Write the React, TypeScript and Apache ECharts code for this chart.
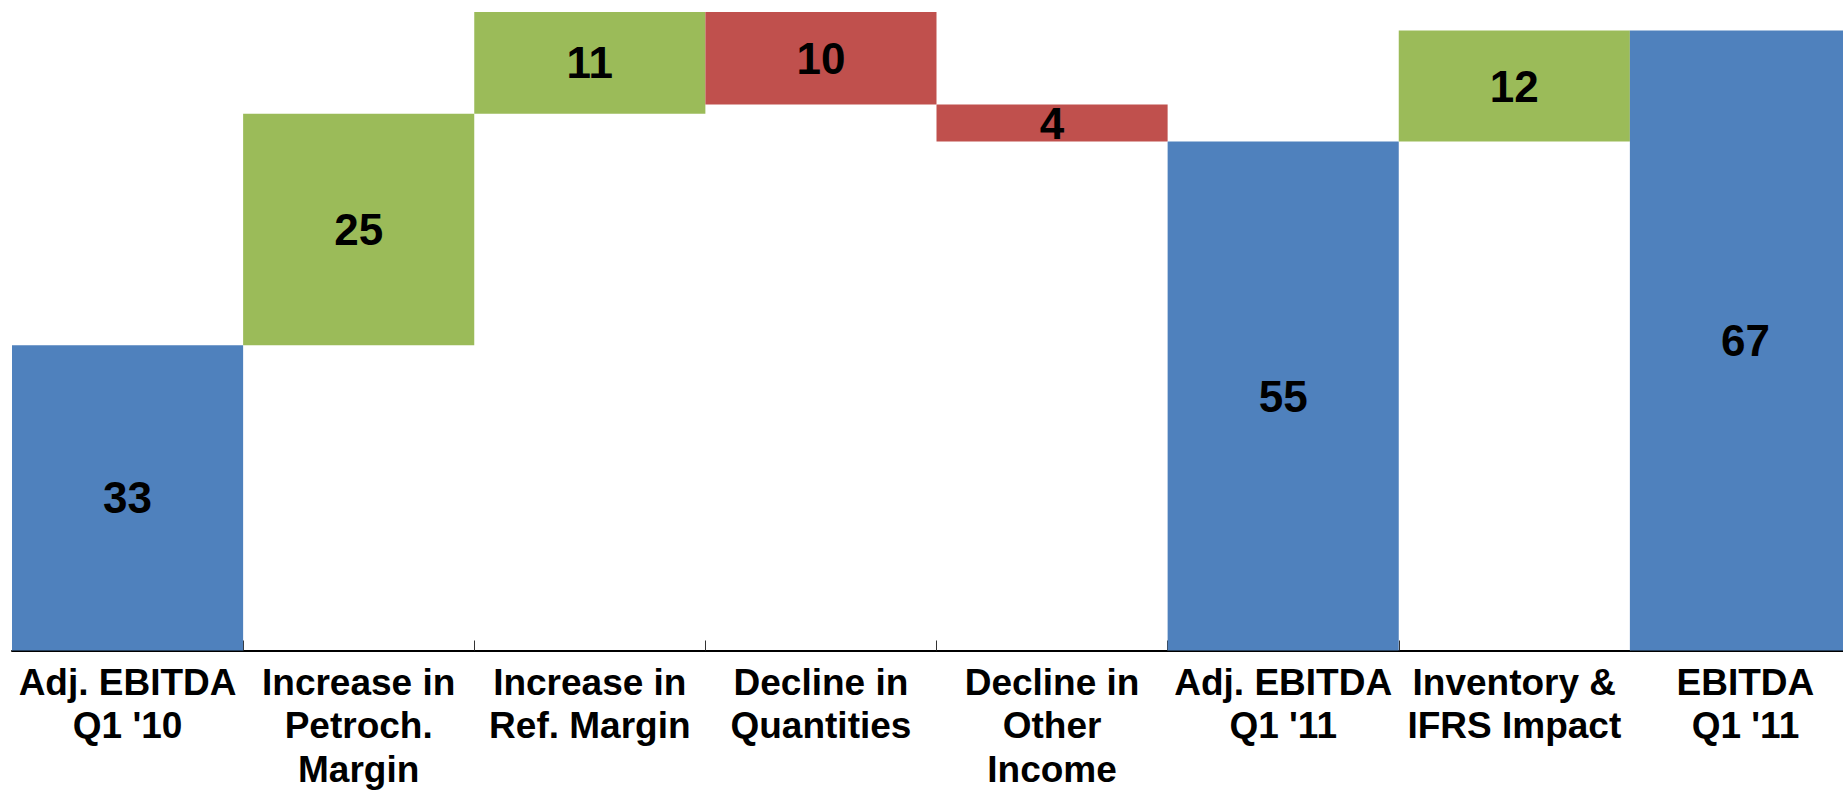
import React, { useEffect, useRef } from "react";
import * as echarts from "echarts";

const categories = [
  "Adj. EBITDA\nQ1 '10",
  "Increase in\nPetroch.\nMargin",
  "Increase in\nRef. Margin",
  "Decline in\nQuantities",
  "Decline in\nOther\nIncome",
  "Adj. EBITDA\nQ1 '11",
  "Inventory &\nIFRS Impact",
  "EBITDA\nQ1 '11",
];
const values = [33, 25, 11, 10, 4, 55, 12, 67];
const kinds = ["total", "inc", "inc", "dec", "dec", "total", "inc", "total"];

const COLORS: Record<string, string> = {
  total: "#4F81BD",
  inc: "#9BBB59",
  dec: "#C0504D",
};

function buildBases(): number[] {
  const bases: number[] = [];
  let running = 0;
  values.forEach((v, i) => {
    const k = kinds[i];
    if (k === "total") {
      bases.push(0);
      running = v;
    } else if (k === "inc") {
      bases.push(running);
      running += v;
    } else {
      running -= v;
      bases.push(running);
    }
  });
  return bases;
}

export default function App() {
  const ref = useRef<HTMLDivElement>(null);
  useEffect(() => {
    if (!ref.current) return;
    const chart = echarts.init(ref.current, undefined, { renderer: "svg" });
    const bases = buildBases();
    const font = "'Liberation Sans', Arial, sans-serif";
    chart.setOption({
      animation: false,
      backgroundColor: "#ffffff",
      grid: { left: 12, right: 0, top: 0, bottom: 137, containLabel: false },
      xAxis: {
        type: "category",
        data: categories,
        axisLine: { show: true, lineStyle: { color: "#000000", width: 2 } },
        axisTick: {
          show: true,
          inside: true,
          length: 10,
          alignWithLabel: false,
          lineStyle: { color: "#333333", width: 1 },
        },
        axisLabel: {
          interval: 0,
          margin: 10,
          color: "#000000",
          fontFamily: font,
          fontWeight: "bold",
          fontSize: 37,
          lineHeight: 43.5,
          align: "center",
        },
        splitLine: { show: false },
      },
      yAxis: {
        type: "value",
        min: 0,
        max: 70.3,
        show: false,
        splitLine: { show: false },
      },
      series: [
        {
          type: "bar",
          stack: "wf",
          data: bases,
          itemStyle: { color: "transparent" },
          barCategoryGap: "0%",
          silent: true,
        },
        {
          type: "bar",
          stack: "wf",
          barCategoryGap: "0%",
          data: values.map((v, i) => ({
            value: v,
            itemStyle: { color: COLORS[kinds[i]] },
          })),
          label: {
            show: true,
            position: "inside",
            color: "#000000",
            fontFamily: font,
            fontWeight: "bold",
            fontSize: 44,
          },
        },
      ],
    });
    return () => chart.dispose();
  }, []);
  return (
    <div
      style={{
        position: "fixed",
        left: 0,
        top: 0,
        width: 1843,
        height: 791,
        overflow: "hidden",
        background: "#fff",
      }}
    >
      <div ref={ref} style={{ width: 1861, height: 791 }} />
    </div>
  );
}
